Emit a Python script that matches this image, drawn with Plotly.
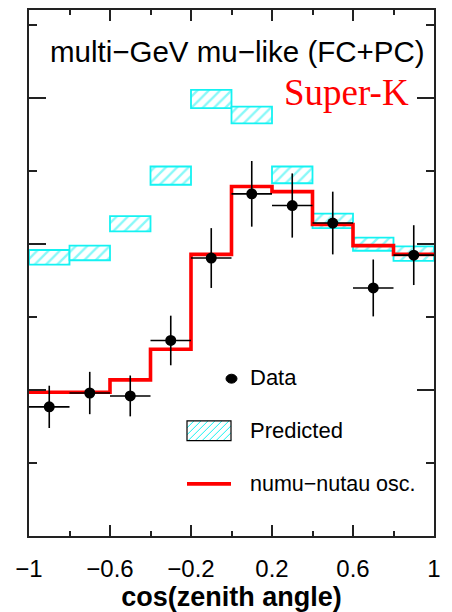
import plotly.graph_objects as go

# Zenith-angle bins (cos theta), 10 bins from -1 to 1
bin_edges = [-1.0, -0.8, -0.6, -0.4, -0.2, 0.0, 0.2, 0.4, 0.6, 0.8, 1.0]
bin_centers = [-0.9, -0.7, -0.5, -0.3, -0.1, 0.1, 0.3, 0.5, 0.7, 0.9]

# Observed events with statistical errors
data_y = [17.7, 19.6, 19.2, 26.8, 38.1, 46.9, 45.3, 42.9, 34.0, 38.5]
data_err = [2.9, 2.9, 2.8, 3.4, 4.1, 4.5, 4.4, 4.3, 3.9, 4.1]

# No-oscillation prediction: centre and half-height of the band
pred_center = [38.2, 38.8, 42.8, 49.4, 59.9, 57.7, 49.5, 43.2, 40.0, 38.7]
pred_half = [1.0, 1.0, 1.05, 1.25, 1.25, 1.15, 1.15, 1.0, 0.9, 1.0]

# numu -> nutau oscillation best fit
osc_y = [19.7, 19.7, 21.4, 25.6, 38.6, 47.9, 47.2, 42.7, 39.8, 38.6]

x_ticks = [-1, -0.6, -0.2, 0.2, 0.6, 1]
y_max = 72.1

CYAN = "#14f2f2"
RED = "#ff0000"
FONT = "Liberation Sans"

W, H = 452, 612
L, R, T, B = 29, 434, 8, 538

fig = go.Figure()

# Prediction bands (hatched boxes)
fig.add_trace(go.Bar(
    x=bin_centers,
    y=[2 * h for h in pred_half],
    base=[c - h for c, h in zip(pred_center, pred_half)],
    width=0.2,
    marker=dict(
        color="white",
        line=dict(color=CYAN, width=1.8),
        pattern=dict(shape="/", fgcolor=CYAN, bgcolor="white", size=8, solidity=0.3),
    ),
    showlegend=False,
))

# Oscillation histogram
fig.add_trace(go.Scatter(
    x=bin_edges,
    y=osc_y + [osc_y[-1]],
    mode="lines",
    line=dict(color=RED, width=3.6, shape="hv"),
    showlegend=False,
))

# Data points with error bars
fig.add_trace(go.Scatter(
    x=bin_centers,
    y=data_y,
    mode="markers",
    marker=dict(color="black", size=11, symbol="circle"),
    error_y=dict(type="data", array=data_err, color="black", thickness=1.6, width=0),
    error_x=dict(type="constant", value=0.1, color="black", thickness=1.6, width=0),
    showlegend=False,
))


def px(xp):
    return (xp - L) / (R - L)


def py(yp):
    return (B - yp) / (B - T)


shapes = []
annotations = []

# Legend: data marker
shapes.append(dict(type="circle", xref="paper", yref="paper",
                   x0=px(226), x1=px(237), y0=py(384), y1=py(375),
                   fillcolor="black", line=dict(color="black", width=1)))

# Legend: hatched box
bx0, bx1, by0, by1 = 187, 231, 422, 442
step = 7
c = bx0 - (by1 - by0)
while c < bx1:
    # segment along px = c + (by1 - y)
    sx, sy = c, by1
    if sx < bx0:
        sy = by1 - (bx0 - c)
        sx = bx0
    ex, ey = c + (by1 - by0), by0
    if ex > bx1:
        ey = by1 - (bx1 - c)
        ex = bx1
    if ex > sx:
        shapes.append(dict(type="line", xref="paper", yref="paper",
                           x0=px(sx), y0=py(sy), x1=px(ex), y1=py(ey),
                           line=dict(color=CYAN, width=1)))
    c += step
shapes.append(dict(type="rect", xref="paper", yref="paper",
                   x0=px(bx0), x1=px(bx1), y0=py(by1), y1=py(by0),
                   line=dict(color="black", width=1.2)))

# Legend: oscillation line
shapes.append(dict(type="line", xref="paper", yref="paper",
                   x0=px(187), x1=px(231), y0=py(485.5), y1=py(485.5),
                   line=dict(color=RED, width=3.6)))

legend_text = [("Data", 378, 22), ("Predicted", 432, 22), ("numu\u2212nutau osc.", 486, 21.5)]
for txt, ypix, size in legend_text:
    annotations.append(dict(text=txt, xref="paper", yref="paper",
                            x=px(248), y=py(ypix), xanchor="left", yanchor="middle",
                            showarrow=False, font=dict(family=FONT, size=size, color="black")))

annotations.append(dict(text="multi\u2212GeV mu\u2212like (FC+PC)", xref="paper", yref="paper",
                        x=px(237), y=py(50), xanchor="center", yanchor="middle",
                        showarrow=False, font=dict(family=FONT, size=29.5, color="black")))
annotations.append(dict(text="Super-K", xref="paper", yref="paper",
                        x=px(411), y=py(91), xanchor="right", yanchor="middle",
                        showarrow=False, font=dict(family="Liberation Serif", size=37, color=RED)))

fig.update_layout(
    width=W, height=H,
    margin=dict(l=L, r=W - R, t=T, b=H - B),
    paper_bgcolor="white",
    plot_bgcolor="white",
    barmode="overlay",
    shapes=shapes,
    annotations=annotations,
    xaxis=dict(
        range=[-1, 1],
        tickmode="array",
        tickvals=x_ticks,
        ticktext=[("\u2212" + str(abs(v)) if v < 0 else str(v)) for v in x_ticks],
        ticks="inside", ticklen=11, tickwidth=1.5, tickcolor="#222",
        minor=dict(dtick=0.2, tick0=-1, ticks="inside", ticklen=5, tickwidth=1.5, tickcolor="#222"),
        showline=True, linecolor="#222", linewidth=1.6, mirror="ticks",
        showgrid=False, zeroline=False,
        ticklabelstandoff=10,
        tickfont=dict(family=FONT, size=24, color="black"),
        title=dict(text="<b>cos(zenith angle)</b>", font=dict(family=FONT, size=27, color="black"),
                   standoff=4),
    ),
    yaxis=dict(
        range=[0, y_max],
        tickmode="linear", tick0=0, dtick=20,
        ticks="inside", ticklen=17, tickwidth=1.5, tickcolor="#222",
        minor=dict(dtick=10, tick0=0, ticks="inside", ticklen=8, tickwidth=1.5, tickcolor="#222"),
        showline=True, linecolor="#222", linewidth=1.6, mirror="ticks",
        showgrid=False, zeroline=False, showticklabels=False,
    ),
)

fig.write_html("out.html")
